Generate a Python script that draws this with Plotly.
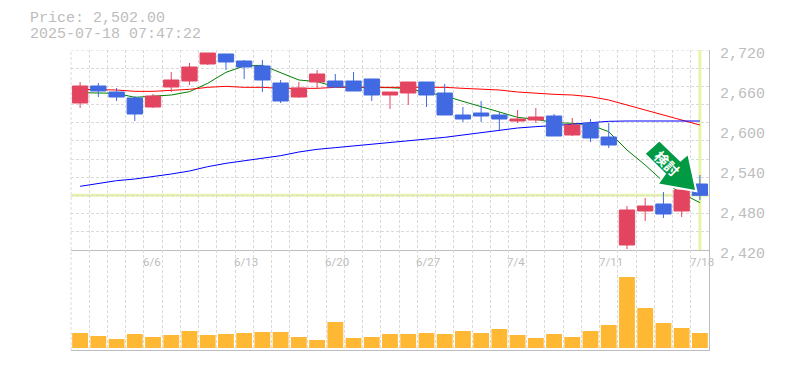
import plotly.graph_objects as go

# ---- data ----
dates = ["6/6", "6/13", "6/20", "6/27", "7/4", "7/11", "7/18"]
date_idx = [4, 9, 14, 19, 24, 29, 34]
price_ticks = [2720, 2660, 2600, 2540, 2480, 2420]
price_labels = ["2,720", "2,660", "2,600", "2,540", "2,480", "2,420"]
last_price = 2502

idx = list(range(35))
opens = [2640.5, 2666, 2657, 2648, 2634.5, 2664.5, 2673.5, 2699, 2714, 2703.5, 2696, 2670.5,
         2649.5, 2672, 2673.5, 2673.5, 2676.5, 2652.5, 2655.5, 2672, 2655.5, 2622.5, 2625.5, 2622.5,
         2613.5, 2615, 2621, 2592.5, 2610.5, 2589.5, 2427.5, 2478.5, 2489, 2478.5, 2519]
closes = [2666, 2658.5, 2649.5, 2624, 2651, 2675, 2694.5, 2715.5, 2702, 2694.5, 2675, 2643.5,
          2663, 2684, 2664.5, 2658.5, 2652.5, 2657, 2672, 2652.5, 2622.5, 2616.5, 2621, 2616.5,
          2616.5, 2619.5, 2591, 2607.5, 2588, 2577.5, 2480, 2486, 2474, 2510, 2502]
highs = [2672, 2670.5, 2663, 2651, 2654, 2687, 2700.5, 2715.5, 2714, 2705, 2705, 2675,
         2672, 2690, 2684, 2687, 2676.5, 2657, 2672, 2672, 2669, 2634.5, 2643.5, 2627,
         2630, 2633, 2624, 2618, 2616.5, 2610.5, 2486, 2498, 2507, 2510, 2532.5]
lows = [2633, 2649.5, 2643.5, 2613.5, 2633, 2657, 2667.5, 2697.5, 2690, 2676.5, 2657, 2640.5,
        2648, 2661.5, 2663, 2658.5, 2643.5, 2631.5, 2637.5, 2634.5, 2622.5, 2612, 2612, 2600,
        2610.5, 2610.5, 2591, 2591, 2582, 2573, 2421.5, 2463.5, 2468, 2469.5, 2495]
ma_red = [2661, 2661, 2660, 2658, 2658, 2659.5, 2661, 2664, 2665.5, 2664, 2664, 2662.5,
          2662.5, 2662.5, 2664, 2664, 2664, 2664, 2664, 2664, 2664, 2662.5, 2661, 2660,
          2657, 2655, 2653.5, 2652.5, 2650, 2645, 2637.5, 2630, 2622.5, 2615, 2607.5]
ma_green = [2656, 2655, 2655, 2649, 2651, 2652.5, 2657.5, 2670, 2686.5, 2696, 2697, 2686.5,
            2675, 2672.5, 2665, 2664, 2664, 2663.5, 2662, 2656, 2651, 2643, 2635, 2627.5,
            2619, 2616, 2611, 2610, 2607.5, 2597.5, 2570, 2547.5, 2522.5, 2505, 2491]
ma_blue = [2515.5, 2520, 2524, 2526.5, 2530, 2534, 2538.5, 2545, 2550, 2553.5, 2557.5, 2561.5,
           2567, 2571, 2573.5, 2576, 2579, 2581.5, 2584, 2587, 2589, 2592.5, 2596, 2599,
           2603, 2605, 2606.5, 2608.5, 2611, 2613, 2613.5, 2613.5, 2613.5, 2613.5, 2613.5]
volume = [15, 12, 9, 14, 11, 13, 17, 13, 14, 15, 16, 16, 11, 8, 26, 10, 11, 14,
          14, 15, 14, 17, 15, 19, 13, 10, 14, 11, 17, 23, 71, 40, 25, 20, 15]

GREY = "#bdbdbd"
GRID = "#dadada"
RED = "#e34560"
BLUE = "#4169e1"
LIME = "#e6f5a8"
MONO = "Liberation Mono"
DASH = "3px,2px"

fig = go.Figure()
for vals, col in ((ma_green, "#008000"), (ma_red, "#ff0000"), (ma_blue, "#0000ff")):
    fig.add_trace(go.Scatter(x=idx, y=vals, mode="lines", line=dict(color=col, width=1),
                             xaxis="x", yaxis="y", hoverinfo="skip"))
fig.add_trace(go.Candlestick(x=idx, open=opens, high=highs, low=lows, close=closes,
                             xaxis="x", yaxis="y3", whiskerwidth=0,
                             increasing=dict(line=dict(color=RED, width=1), fillcolor=RED),
                             decreasing=dict(line=dict(color=BLUE, width=1), fillcolor=BLUE)))
fig.add_trace(go.Bar(x=idx, y=volume, marker=dict(color="#ffb833", line=dict(width=0)),
                     width=0.87, xaxis="x2", yaxis="y2"))

vgrid = [i - 0.5 for i in range(35)]
hgrid = [2420 + k * 300 / 11 for k in range(12)]
xcommon = dict(range=[-0.5, 34.5], tickmode="array", tickvals=vgrid, showticklabels=False, ticks="",
               showgrid=True, gridcolor=GRID, griddash=DASH, gridwidth=1, zeroline=False,
               showline=True, linecolor=GREY, linewidth=1)

shapes = [
    dict(type="line", xref="x domain", yref="y", x0=0, x1=1, y0=2720, y1=2720,
         line=dict(color=GRID, width=1, dash=DASH), layer="below"),
    dict(type="line", xref="paper", yref="paper", x0=0, x1=0, y0=0, y1=1,
         line=dict(color=GRID, width=1, dash=DASH), layer="below"),
    dict(type="line", xref="x domain", yref="y", x0=0, x1=1, y0=last_price, y1=last_price,
         line=dict(color=LIME, width=3), layer="below"),
    dict(type="line", xref="x", yref="y domain", x0=34, x1=34, y0=0, y1=1,
         line=dict(color=LIME, width=3), layer="below"),
    # "signal" arrow, pixel offsets from the last candle's close
    dict(type="path", xref="x", yref="y", xsizemode="pixel", ysizemode="pixel",
         xanchor=34, yanchor=last_price,
         path="M -40.5 55 L -55.5 41.7 L -35 21.5 L -42.5 11 L -3.5 4 L -11.7 41.7 L -19.5 35 Z",
         fillcolor="#009944", line=dict(color="#ffffff", width=2), layer="above"),
]

annotations = [
    dict(text="Price: 2,502.00", xref="paper", yref="paper", x=-0.0665, y=1.104,
         xanchor="left", yanchor="middle", showarrow=False, borderpad=0,
         font=dict(family=MONO, size=15, color=GREY)),
    dict(text="2025-07-18 07:47:22", xref="paper", yref="paper", x=-0.0665, y=1.051,
         xanchor="left", yanchor="middle", showarrow=False, borderpad=0,
         font=dict(family=MONO, size=15, color=GREY)),
    dict(text="<b>検討</b>", xref="x", yref="y", x=34, y=last_price, xshift=-33, yshift=32,
         textangle=45, showarrow=False,
         font=dict(family="Noto Sans CJK JP", size=14, color="#ffffff")),
]
for t, lab in zip(price_ticks, price_labels):
    annotations.append(dict(text=lab, xref="paper", yref="y", x=1, y=t, xshift=9, yshift=-4,
                            xanchor="left", yanchor="middle", showarrow=False,
                            font=dict(family=MONO, size=15, color=GREY)))
for i, lab in zip(date_idx, dates):
    annotations.append(dict(text=lab, xref="x2", yref="y2 domain", x=i - 0.5, y=1, xshift=-3, yshift=-3,
                            xanchor="left", yanchor="top", showarrow=False,
                            font=dict(family="Roboto", size=11.5, color=GREY)))

yfix = dict(range=[2420, 2720], tickmode="array", tickvals=hgrid, showticklabels=False, ticks="",
            zeroline=False)
fig.update_layout(
    width=785, height=370, autosize=False, margin=dict(l=71, r=76, t=50, b=20, pad=0),
    paper_bgcolor="#ffffff", plot_bgcolor="#ffffff", showlegend=False, boxgap=0.16, boxgroupgap=0,
    xaxis=dict(domain=[0, 1], anchor="y", rangeslider=dict(visible=False), **xcommon),
    xaxis2=dict(domain=[0, 1], anchor="y2", matches="x", **xcommon),
    yaxis=dict(domain=[1 / 3, 1], anchor="x", showgrid=True, gridcolor=GRID, griddash=DASH,
               side="right", showline=True, linecolor=GREY, linewidth=1, **yfix),
    yaxis3=dict(overlaying="y", anchor="x", showgrid=False, side="right", **yfix),
    yaxis2=dict(domain=[0, 1 / 3], anchor="x2", range=[-2, 98], showgrid=False, showticklabels=False,
                ticks="", zeroline=False, side="right", showline=True, linecolor=GREY, linewidth=1),
    shapes=shapes, annotations=annotations, hovermode=False,
)
fig.write_html("out.html", config=dict(displayModeBar=False),
               post_script="document.body.style.margin='0';")
